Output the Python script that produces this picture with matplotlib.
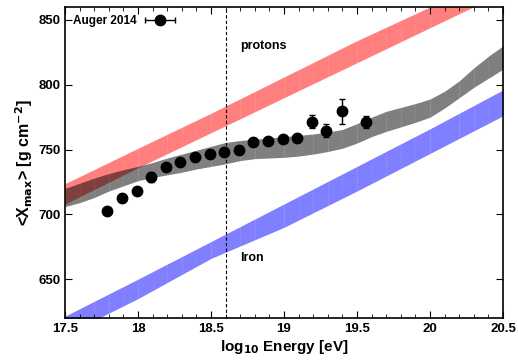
import matplotlib

matplotlib.use("Agg")
import matplotlib.pyplot as plt
import numpy as np
from matplotlib.legend_handler import HandlerErrorbar
from matplotlib.ticker import MultipleLocator

plt.rcParams["font.family"] = ["Liberation Sans", "DejaVu Sans"]
plt.rcParams["font.weight"] = "bold"
plt.rcParams["mathtext.default"] = "bf"

# Auger 2014 <Xmax> points
energy = [17.79, 17.89, 17.99, 18.09, 18.19, 18.29, 18.39, 18.49, 18.59,
          18.69, 18.79, 18.89, 18.99, 19.09, 19.19, 19.29, 19.40, 19.56]
xmax = [702.5, 712.5, 718.0, 729.0, 736.5, 740.5, 744.0, 746.5, 748.0,
        749.5, 755.5, 756.5, 758.0, 759.0, 771.5, 764.5, 779.5, 771.5]
xmax_err = [2, 2, 2, 4, 2, 2, 2, 2, 2, 2, 2, 2.5, 2.5, 3, 5, 5, 9.5, 4.5]

# band grid for proton / iron predictions
band_e = [17.5, 18.0, 18.5, 19.0, 19.5, 20.0, 20.5]
proton_lo = [708, 736, 763, 790, 817, 844, 871]
proton_hi = [723.7, 751, 778, 806, 834, 860, 887]
iron_lo = [607, 635, 666, 690, 718, 747, 776]
iron_hi = [621.5, 650, 679, 708, 737, 766, 796]

# fitted mixture band (grey)
fit_e = [17.5, 17.6, 17.7, 17.8, 17.9, 18.0, 18.1, 18.2, 18.3, 18.4, 18.5,
         18.6, 18.7, 18.8, 18.9, 19.0, 19.1, 19.2, 19.3, 19.4, 19.5, 19.6,
         19.7, 19.8, 19.9, 20.0, 20.1, 20.2, 20.3, 20.4, 20.5]
fit_lo = [706, 709, 713, 718, 722, 726, 728.5, 730.5, 732.5, 735, 737,
          739, 741.5, 743, 743.5, 744, 745, 746.5, 748.5, 751, 755, 760,
          764, 767.5, 771, 775, 782, 790, 798, 805, 812]
fit_hi = [720, 724, 728, 731.5, 734.5, 737, 740, 743.5, 746.5, 749.5, 752.5,
          755.5, 757, 758, 759, 760, 761, 762, 763.5, 765.5, 770, 775,
          779.5, 782.5, 785.5, 789, 795, 803, 813, 822, 830]

ankle = 18.6
tick_e = [17.5, 18, 18.5, 19, 19.5, 20, 20.5]
tick_labels = ["17.5", "18", "18.5", "19", "19.5", "20", "20.5"]


def striped_band(ax, e, lo, hi, color, step=0.1):
    # draw band as 0.1-wide slabs, as in the original rendering
    grid = np.round(np.arange(e[0], e[-1] + step / 2, step), 3)
    lo_g = np.interp(grid, e, lo)
    hi_g = np.interp(grid, e, hi)
    for i in range(len(grid) - 1):
        ax.fill_between(grid[i:i + 2], lo_g[i:i + 2], hi_g[i:i + 2],
                        color=color, alpha=0.5, linewidth=0)


fig = plt.figure(figsize=(5.18, 3.61), dpi=100)
ax = fig.add_axes([0.1255, 0.119, 0.8455, 0.8616])

striped_band(ax, band_e, proton_lo, proton_hi, "red")
striped_band(ax, band_e, iron_lo, iron_hi, "blue")
striped_band(ax, fit_e, fit_lo, fit_hi, "black")

ax.axvline(ankle, color="black", linestyle=(0, (3, 2)), linewidth=0.8)

ax.errorbar(energy, xmax, yerr=xmax_err, fmt="o", color="black",
            markersize=7.5, capsize=2.5, elinewidth=1, zorder=5)

# proxy handle with a horizontal bar, like the original key
proxy = ax.errorbar([np.nan], [np.nan], xerr=[0.1], fmt="o", color="black",
                    markersize=7.5, capsize=2.5, elinewidth=1)
ax.legend([proxy], ["Auger 2014"], loc="upper left", frameon=False,
          markerfirst=False, prop={"size": 8.5, "weight": "bold"},
          handler_map={type(proxy): HandlerErrorbar(xerr_size=1.3)},
          handlelength=2.8, handletextpad=0.6, borderaxespad=0.45,
          borderpad=0.2)

ax.text(18.70, 830, "protons", fontsize=9, fontweight="bold",
        va="center", ha="left")
ax.text(18.70, 666, "Iron", fontsize=9, fontweight="bold",
        va="center", ha="left")

ax.set_xlim(17.5, 20.5)
ax.set_ylim(620, 860)
ax.xaxis.set_minor_locator(MultipleLocator(0.1))
ax.yaxis.set_major_locator(MultipleLocator(50))
ax.set_xticks(tick_e)
ax.set_xticklabels(tick_labels)
ax.tick_params(which="both", direction="in", top=True, right=True,
               labelsize=9.5)
ax.tick_params(which="major", length=5)
ax.tick_params(which="minor", length=3)
for lab in ax.get_xticklabels() + ax.get_yticklabels():
    lab.set_fontweight("bold")
for s in ax.spines.values():
    s.set_linewidth(1.2)

ax.set_xlabel("log$_{10}$ Energy [eV]", fontsize=11, fontweight="bold",
              labelpad=2)
ax.set_ylabel("<X$_{max}$> [g cm$^{-2}$]", fontsize=11.5, fontweight="bold",
              labelpad=2)

fig.savefig("out.png", dpi=100)
